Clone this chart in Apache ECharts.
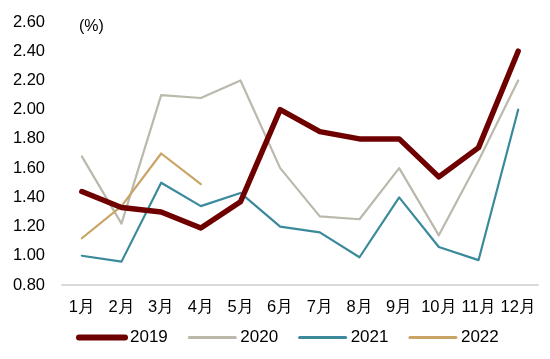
<!DOCTYPE html>
<html><head><meta charset="utf-8">
<script src="https://cdn.jsdelivr.net/npm/echarts@6/dist/echarts.min.js"></script>
<style>html,body{margin:0;padding:0;background:#fff}#c{width:550px;height:359px}</style>
</head><body><div id="c"></div>
<script>
const categories = ['1月','2月','3月','4月','5月','6月','7月','8月','9月','10月','11月','12月'];
const s2019 = [1.44, 1.33, 1.30, 1.19, 1.37, 2.00, 1.85, 1.80, 1.80, 1.54, 1.74, 2.40];
const s2020 = [1.68, 1.22, 2.10, 2.08, 2.20, 1.60, 1.27, 1.25, 1.60, 1.14, 1.65, 2.20];
const s2021 = [1.00, 0.96, 1.50, 1.34, 1.43, 1.20, 1.16, 0.99, 1.40, 1.06, 0.97, 2.00];
const s2022 = [1.12, 1.34, 1.70, 1.49];
const yTicks = {min: 0.8, max: 2.6, interval: 0.2};

const font = 'Liberation Sans, Arial, sans-serif';
const chart = echarts.init(document.getElementById('c'));
function mk(name, data, color, width) {
  return {name, type: 'line', data, symbol: 'none', smooth: false,
    lineStyle: {color, width, cap: 'round', join: 'round'}, itemStyle: {color}};
}
chart.setOption({
  animation: false,
  textStyle: {fontFamily: font},
  grid: {left: 62, right: 12, top: 22, bottom: 74, containLabel: false},
  graphic: [{type: 'text', left: 79, top: 19, style: {text: '(%)', fontSize: 16, fill: '#000', fontFamily: font}}],
  xAxis: {type: 'category', data: categories, boundaryGap: true,
    axisLine: {lineStyle: {color: '#D9D9D9', width: 2}}, axisTick: {show: false},
    axisLabel: {color: '#000', fontSize: 16.5, margin: 14, fontFamily: font, interval: 0}},
  yAxis: {type: 'value', min: yTicks.min, max: yTicks.max, interval: yTicks.interval,
    axisLine: {show: false}, axisTick: {show: false}, splitLine: {show: false},
    axisLabel: {color: '#000', fontSize: 16.5, margin: 17, fontFamily: font, formatter: v => v.toFixed(2)}},
  legend: {bottom: 8, left: 71, itemWidth: 46, itemHeight: 10, itemGap: 20,
    itemStyle: {opacity: 0},
    textStyle: {color: '#000', fontSize: 17, fontFamily: font},
    data: [
      {name: '2019', lineStyle: {width: 6, cap: 'round'}},
      {name: '2020', lineStyle: {width: 3}},
      {name: '2021', lineStyle: {width: 3}},
      {name: '2022', lineStyle: {width: 3}}
    ]},
  series: [
    mk('2020', s2020, '#BAB9AB', 2.2),
    mk('2021', s2021, '#3B8A9B', 2.2),
    mk('2022', s2022, '#C9A464', 2.2),
    mk('2019', s2019, '#6E0000', 5.5)
  ]
});
</script></body></html>
